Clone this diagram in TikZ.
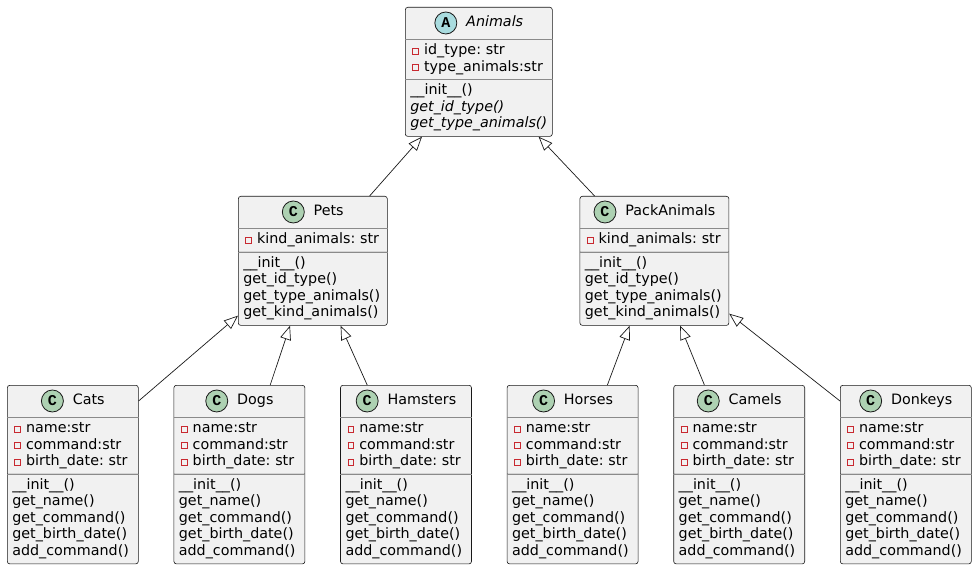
\documentclass[tikz,border=0pt]{standalone}
\usepackage{fontspec}
\setmainfont{DejaVu Sans}
\newfontfamily\iconfont{Liberation Mono}
\usetikzlibrary{shapes.multipart, positioning, arrows.meta}

\definecolor{boxfill}{HTML}{F1F1F1}
\definecolor{linec}{HTML}{181818}
\definecolor{sepgray}{HTML}{8A8A8A}
\definecolor{privred}{HTML}{C82930}
\definecolor{classgreen}{HTML}{ADD1B2}
\definecolor{abstractblue}{HTML}{A9DCDF}

\newcommand{\classicon}[2]{\tikz[baseline=-0.5ex]\node[circle, anchor=center, draw=linec, fill=#1, line width=0.8pt, minimum size=22pt, inner sep=0pt, font=\iconfont\bfseries\fontsize{15}{15}\selectfont] {#2};}
\newcommand{\privmark}{\hspace*{2pt}\raisebox{1pt}{\textcolor{privred}{\fboxrule=0.9pt\fboxsep=0pt\fbox{\rule{5pt}{0pt}\rule{0pt}{5pt}}}}\hspace{5pt}}
\newcommand{\classhead}[3]{\hbox to\hsize{\hss\rule[-9pt]{0pt}{25pt}\classicon{#1}{#2}\hspace{9pt}#3\hss}}
\newcommand{\leafbody}[1]{\classhead{classgreen}{C}{#1}
  \nodepart{two}\strut\privmark name:str\\ \privmark command:str\\ \privmark birth\_date: str\strut
  \nodepart{three}\strut\_\_init\_\_()\\ get\_name()\\ get\_command()\\ get\_birth\_date()\\ add\_command()\strut}

\begin{document}
\begin{tikzpicture}[
    x=1pt, y=-1pt,
    node distance=35pt,
    umlclass/.style={rectangle split, rectangle split parts=3, draw=linec, fill=boxfill, line width=0.6pt, rounded corners=2.5pt, text width=#1, align=left, inner xsep=5pt, inner ysep=3.3pt, font=\fontsize{14.3}{16.5}\selectfont\frenchspacing},
    extends/.style={draw=linec, line width=0.7pt, -{Triangle[open, length=14pt, width=11pt]}}
]
   \useasboundingbox (0,0) rectangle (974,569);

   % Classes
   \node[umlclass=137pt, anchor=north west] (animals) at (405,7) {\classhead{abstractblue}{A}{\textit{Animals}}
     \nodepart{two}\strut\privmark id\_type: str\\ \privmark type\_animals:str\strut
     \nodepart{three}\strut\_\_init\_\_()\\ \textit{get\_id\_type()}\\ \textit{get\_type\_animals()}\strut};

   \node[umlclass=139pt, anchor=north west] (pets) at (238,196) {\classhead{classgreen}{C}{Pets}
     \nodepart{two}\strut\privmark kind\_animals: str\strut
     \nodepart{three}\strut\_\_init\_\_()\\ get\_id\_type()\\ get\_type\_animals()\\ get\_kind\_animals()\strut};
   \node[umlclass=139pt, right=192pt of pets] (packanimals) {\classhead{classgreen}{C}{PackAnimals}
     \nodepart{two}\strut\privmark kind\_animals: str\strut
     \nodepart{three}\strut\_\_init\_\_()\\ get\_id\_type()\\ get\_type\_animals()\\ get\_kind\_animals()\strut};

   \node[umlclass=121pt, anchor=north west] (cats) at (7,385) {\leafbody{Cats}};
   \node[umlclass=121pt, right=of cats] (dogs) {\leafbody{Dogs}};
   \node[umlclass=121pt, right=of dogs] (hamsters) {\leafbody{Hamsters}};
   \node[umlclass=121pt, right=of hamsters] (horses) {\leafbody{Horses}};
   \node[umlclass=121pt, right=of horses] (camels) {\leafbody{Camels}};
   \node[umlclass=121pt, right=of camels] (donkeys) {\leafbody{Donkeys}};

   % lighter compartment lines
   \foreach \n in {animals, pets, packanimals, cats, dogs, hamsters, horses, camels, donkeys}
     \draw[sepgray, line width=0.7pt] (\n.one split west) -- (\n.one split east)
                                      (\n.two split west) -- (\n.two split east);

   % Inheritance
   \draw[extends] ([xshift=-18pt]pets.north east) -- ([xshift=17pt]animals.south west);
   \draw[extends] ([xshift=15pt]packanimals.north west) -- ([xshift=-14pt]animals.south east);

   \draw[extends] ([yshift=-16pt]cats.north east) -- ([yshift=10pt]pets.south west);
   \draw[extends] ([xshift=-35pt]dogs.north east) -- ([xshift=52pt]pets.south west);
   \draw[extends] ([xshift=27pt]hamsters.north west) -- ([xshift=-47pt]pets.south east);

   \draw[extends] ([xshift=-31pt]horses.north east) -- ([xshift=50pt]packanimals.south west);
   \draw[extends] ([xshift=31pt]camels.north west) -- ([xshift=-49pt]packanimals.south east);
   \draw[extends] ([yshift=-16pt]donkeys.north west) -- ([yshift=12pt]packanimals.south east);

\end{tikzpicture}
\end{document}
